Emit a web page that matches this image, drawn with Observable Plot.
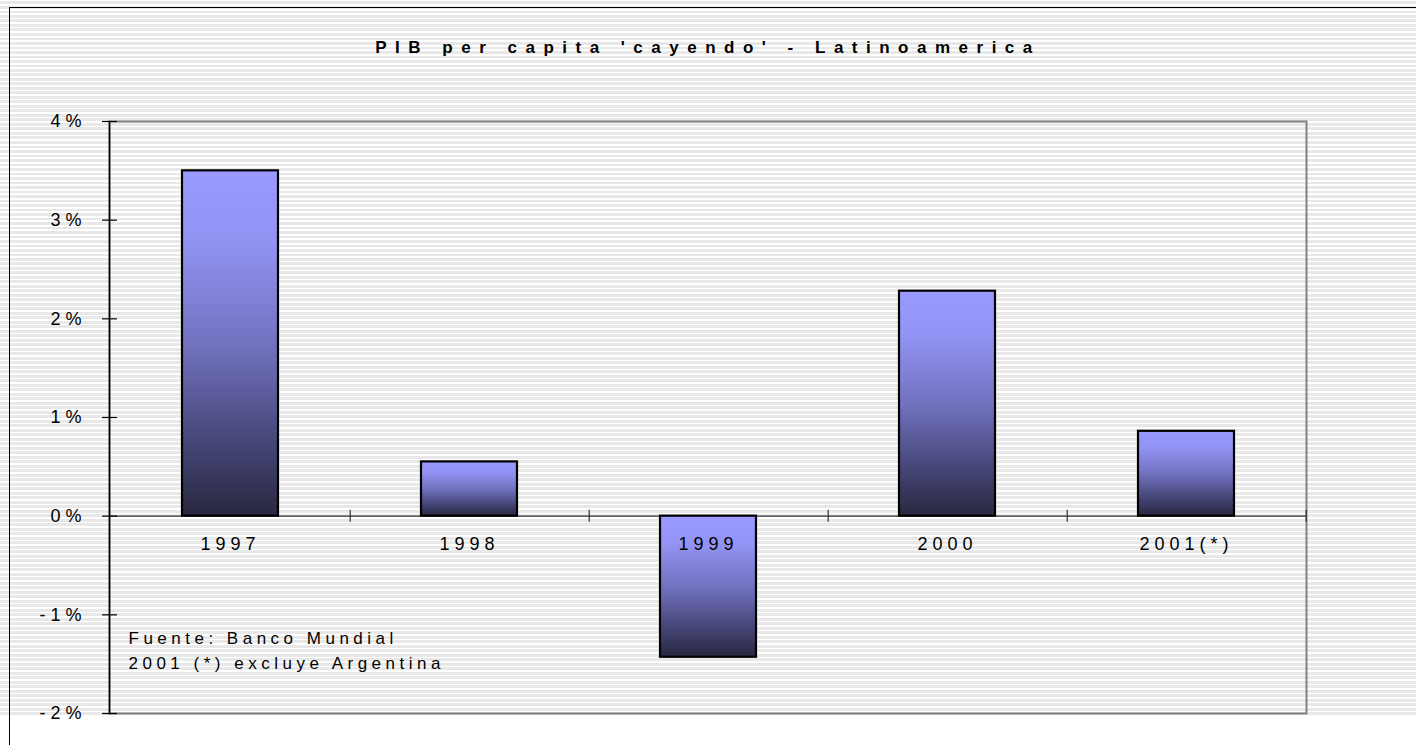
<!DOCTYPE html>
<html>
<head>
<meta charset="utf-8">
<script src="https://cdn.jsdelivr.net/npm/d3@7"></script>
<script src="https://cdn.jsdelivr.net/npm/@observablehq/plot@0.6"></script>
<style>
  html, body { margin: 0; padding: 0; background: #fff; }
  #wrap { position: relative; width: 1416px; height: 745px; overflow: hidden; }
  #bg { position: absolute; left: 0; top: 0; width: 1416px; height: 717px;
        background: repeating-linear-gradient(to bottom, #ffffff 0px, #ffffff 1.5px, #e8e8e8 1.5px, #e8e8e8 4.5px); }
  #border { position: absolute; left: 9px; top: 7px; width: 1410px; height: 740px;
        border-left: 1.5px solid #000; border-top: 1.5px solid #000; }
  #chart { position: absolute; left: 0; top: 0; }
</style>
</head>
<body>
<div id="wrap"><div id="bg"></div><div id="border"></div><div id="chart"></div></div>
<script>
const title = "PIB per capita 'cayendo' - Latinoamerica";
const years = ["1997", "1998", "1999", "2000", "2001(*)"];
const values = [3.5, 0.55, -1.43, 2.28, 0.86];
const yTicks = [-2, -1, 0, 1, 2, 3, 4];
const notes = ["Fuente: Banco Mundial", "2001 (*) excluye Argentina"];

const data = years.map((year, i) => ({year, value: values[i]}));

const W = 1416, H = 745, mL = 109, mR = 110, mT = 121, mB = 32;
const step = (W - mL - mR) / years.length;

const plot = Plot.plot({
  width: W, height: H,
  marginLeft: mL, marginRight: mR, marginTop: mT, marginBottom: mB,
  style: {background: "transparent", fontFamily: "Arial, 'Liberation Sans', sans-serif", fontSize: "18px", color: "#000", letterSpacing: "5px"},
  x: {type: "band", domain: years, paddingInner: 0.6, paddingOuter: 0.3, axis: null},
  y: {domain: [-2, 4]},
  marks: [
    Plot.frame({stroke: "#808080", strokeWidth: 2}),
    Plot.ruleY([0], {stroke: "#333", strokeWidth: 1.2}),
    Plot.ruleX(years, {x: d => d, y1: () => 0, y2: () => 0, dx: step / 2, insetTop: -6, insetBottom: -6, stroke: "#333", strokeWidth: 1.2}),
    Plot.barY(data, {x: "year", y: "value", fill: "url(#barGrad)", stroke: "#000", strokeWidth: 2.2}),
    Plot.text(data, {x: "year", y: () => 0, text: "year", dy: 21, lineAnchor: "top", fill: "#000"}),
    Plot.frame({anchor: "left", stroke: "#000", strokeWidth: 1.5}),
    Plot.axisY(yTicks, {tickSize: 15, dx: 8, tickPadding: 16, tickFormat: d => `${d}%`, label: null, stroke: "#000", strokeWidth: 1.2}),
    Plot.text([notes.join("\n")], {text: d => d, frameAnchor: "bottom-left", dx: 19, dy: -88, lineAnchor: "top", textAnchor: "start", lineHeight: 1.5, fontSize: 17, fill: "#000"}),
    Plot.text([title], {text: d => d, frameAnchor: "top", dy: -81, lineAnchor: "top", fontWeight: "bold", fontSize: 17, fill: "#000"})
  ]
});

const svg = d3.select(plot);
const defs = svg.insert("defs", ":first-child");
const g = defs.append("linearGradient").attr("id", "barGrad").attr("x1", 0).attr("y1", 0).attr("x2", 0).attr("y2", 1);
g.append("stop").attr("offset", "0").attr("stop-color", "#9a9aff");
g.append("stop").attr("offset", "0.2").attr("stop-color", "#9393f4");
g.append("stop").attr("offset", "0.5").attr("stop-color", "#7272c0");
g.append("stop").attr("offset", "0.8").attr("stop-color", "#444475");
g.append("stop").attr("offset", "1").attr("stop-color", "#28283f");
svg.selectAll("text").filter(function() { return this.textContent === title; }).style("letter-spacing", "8.5px");
svg.selectAll("text").filter(function() { return this.textContent.startsWith("Fuente"); }).style("letter-spacing", "4.5px");

document.getElementById("chart").appendChild(plot);
</script>
</body>
</html>
